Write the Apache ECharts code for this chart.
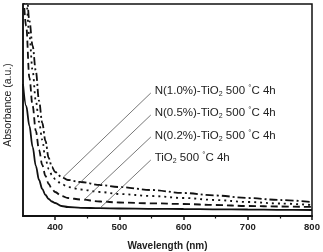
<!DOCTYPE html>
<html>
<head>
<meta charset="utf-8">
<script src="https://cdn.jsdelivr.net/npm/echarts@6/dist/echarts.min.js"></script>
<style>
  html, body { margin: 0; padding: 0; background: #fff; }
  #chart { width: 323px; height: 252px; }
</style>
</head>
<body>
<div id="chart"></div>
<script>
const wavelengths = [350, 355, 360, 365, 370, 375, 380, 385, 390, 395, 400, 410, 420, 440, 470, 500, 550, 600, 650, 700, 750, 800]
const tio2 = [1.32, 1.10, 0.90, 0.69, 0.50, 0.36, 0.27, 0.21, 0.17, 0.145, 0.13, 0.10, 0.09, 0.082, 0.078, 0.075, 0.072, 0.07, 0.067, 0.065, 0.062, 0.06]
const n02 = [2.3, 1.9, 1.38, 1.1, 0.85, 0.66, 0.51, 0.40, 0.32, 0.27, 0.24, 0.20, 0.18, 0.165, 0.145, 0.135, 0.127, 0.12, 0.11, 0.10, 0.095, 0.09]
const n05 = [2.5, 2.15, 1.8, 1.45, 1.15, 0.94, 0.76, 0.57, 0.47, 0.41, 0.37, 0.32, 0.29, 0.265, 0.24, 0.22, 0.20, 0.18, 0.16, 0.14, 0.125, 0.11]
const n10 = [2.7, 2.3, 1.95, 1.7, 1.45, 1.15, 0.93, 0.75, 0.58, 0.49, 0.44, 0.39, 0.36, 0.34, 0.31, 0.29, 0.26, 0.23, 0.205, 0.18, 0.16, 0.14]
const majorTicks = [400, 500, 600, 700, 800]
const minorTicks = [450, 550, 650, 750]

// annotation anchors (data units): label start, leader top, leader end on curve
const labelAt = [[555, 1.25], [555, 1.03], [555, 0.80], [555, 0.58]]
const leaderFrom = [[549, 1.23], [549, 1.01], [549, 0.79], [549, 0.56]]
const leaderTo = [[413, 0.39], [430, 0.28], [445, 0.16], [470, 0.08]]
const names = ["N(1.0%)-TiO", "N(0.5%)-TiO", "N(0.2%)-TiO", "TiO"]

const chart = echarts.init(document.getElementById("chart"), null, { renderer: "canvas" })
const font = "'Liberation Sans', Arial, sans-serif"

const pairs = (values) => wavelengths.map((w, i) => [w, values[i]])

function curve(idx, values, dash) {
  return {
    type: "line",
    data: pairs(values),
    symbol: "none",
    smooth: 0.35,
    smoothMonotone: "x",
    clip: true,
    animation: false,
    lineStyle: { color: "#111", width: 1.8, type: dash },
    markLine: {
      silent: true,
      symbol: "none",
      animation: false,
      label: { show: false },
      lineStyle: { color: "#555", width: 0.8, type: "solid" },
      data: [[{ coord: leaderFrom[idx] }, { coord: leaderTo[idx] }]]
    },
    markPoint: {
      silent: true,
      symbol: "circle",
      symbolSize: 0,
      animation: false,
      label: {
        show: true,
        position: "right",
        distance: 0,
        formatter: "{t|" + names[idx] + "}{s|2}{t| 500 }{d|°}{t|C 4h}",
        rich: {
          t: { fontFamily: font, fontSize: 11.5, color: "#222", lineHeight: 14 },
          s: { fontFamily: font, fontSize: 7, color: "#222", lineHeight: 8, verticalAlign: "bottom" },
          d: { fontFamily: font, fontSize: 8, color: "#222", lineHeight: 8, verticalAlign: "top" }
        }
      },
      data: [{ coord: labelAt[idx] }]
    }
  }
}

chart.setOption({
  animation: false,
  grid: {
    left: 23, right: 11, top: 4, bottom: 36,
    outerBoundsMode: "none",
    show: true, borderColor: "#111", borderWidth: 1.5
  },
  xAxis: [{
    type: "value",
    min: 350,
    max: 800,
    name: "Wavelength (nm)",
    nameLocation: "middle",
    nameGap: 25,
    nameTextStyle: { fontFamily: font, fontSize: 10, fontWeight: "bold", color: "#222" },
    axisLine: { lineStyle: { color: "#111", width: 2 } },
    axisTick: { show: true, length: 4, customValues: majorTicks, lineStyle: { color: "#111", width: 1.5 } },
    axisLabel: { customValues: majorTicks, fontFamily: font, fontSize: 9.5, fontWeight: "bold", color: "#222", margin: 6 },
    splitLine: { show: false }
  }, {
    type: "value",
    min: 350,
    max: 800,
    position: "bottom",
    axisLine: { show: false },
    axisTick: { show: true, length: 2.5, customValues: minorTicks, lineStyle: { color: "#111", width: 1.2 } },
    axisLabel: { show: false },
    splitLine: { show: false }
  }],
  yAxis: {
    type: "value",
    min: 0,
    max: 2.12,
    name: "Absorbance (a.u.)",
    nameLocation: "middle",
    nameGap: 9,
    nameTextStyle: { fontFamily: font, fontSize: 10.5, color: "#222", padding: [0, 0, 0, 10] },
    axisLine: { show: true, lineStyle: { color: "#111", width: 1.5 } },
    axisTick: { show: false },
    axisLabel: { show: false },
    splitLine: { show: false }
  },
  series: [
    curve(0, n10, [8, 3, 2, 3]),
    curve(1, n05, [2, 4]),
    curve(2, n02, [7, 4]),
    curve(3, tio2, "solid")
  ]
})
</script>
</body>
</html>
